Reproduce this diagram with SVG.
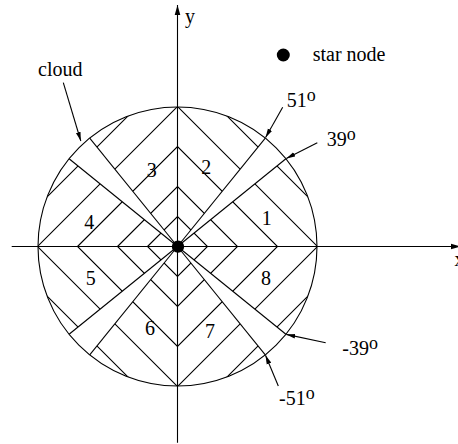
<svg xmlns="http://www.w3.org/2000/svg" width="458" height="444" viewBox="0 0 458 444">
<style>
  .ln{stroke:#000;stroke-width:1.1;fill:none}
  .arr{stroke:#000;stroke-width:1.1;fill:none;marker-end:url(#ah)}
  text{font-family:"Liberation Serif","Times New Roman",serif;font-size:20px;fill:#000}
  .num{text-anchor:middle}
  .sup{font-size:18px}
</style>
<defs>
  <marker id="ah" markerUnits="userSpaceOnUse" markerWidth="10" markerHeight="6" refX="9" refY="3" orient="auto">
    <path d="M0,0.6 L9,3 L0,5.4 Z" fill="#000"/>
  </marker>
  <marker id="axh" markerUnits="userSpaceOnUse" markerWidth="11" markerHeight="7" refX="10" refY="3.5" orient="auto">
    <path d="M0,0.7 L10,3.5 L0,6.3 Z" fill="#000"/>
  </marker>
  <clipPath id="disk">
    <path clip-rule="evenodd" d="M38,246.5 A139.5,139.5 0 1 0 317,246.5 A139.5,139.5 0 1 0 38,246.5 Z
      M177.5,246.5 L285.91,158.71 A139.5,139.5 0 0 0 265.29,138.09 Z
      M177.5,246.5 L89.71,138.09 A139.5,139.5 0 0 0 69.09,158.71 Z
      M177.5,246.5 L69.09,334.29 A139.5,139.5 0 0 0 89.71,354.91 Z
      M177.5,246.5 L265.29,354.91 A139.5,139.5 0 0 0 285.91,334.29 Z"/>
  </clipPath>
</defs>
<rect width="458" height="444" fill="#fff"/>

<g id="diamonds" class="ln" clip-path="url(#disk)">
  <polygon points="147.5,246.5 177.5,216.5 207.5,246.5 177.5,276.5"/>
  <polygon points="117.5,246.5 177.5,186.5 237.5,246.5 177.5,306.5"/>
  <polygon points="77.5,246.5 177.5,146.5 277.5,246.5 177.5,346.5"/>
  <polygon points="37.5,246.5 177.5,106.5 317.5,246.5 177.5,386.5"/>
  <polygon points="-2.5,246.5 177.5,66.5 357.5,246.5 177.5,426.5"/>
</g>

<g id="axes" class="ln">
  <line x1="11.7" y1="246.5" x2="461" y2="246.5" marker-end="url(#axh)"/>
  <line x1="177.5" y1="442.7" x2="177.5" y2="5" marker-end="url(#axh)"/>
</g>

<g id="wedges" class="ln">
  <line x1="177.5" y1="246.5" x2="285.91" y2="158.71"/>
  <line x1="177.5" y1="246.5" x2="265.29" y2="138.09"/>
  <line x1="177.5" y1="246.5" x2="89.71" y2="138.09"/>
  <line x1="177.5" y1="246.5" x2="69.09" y2="158.71"/>
  <line x1="177.5" y1="246.5" x2="69.09" y2="334.29"/>
  <line x1="177.5" y1="246.5" x2="89.71" y2="354.91"/>
  <line x1="177.5" y1="246.5" x2="265.29" y2="354.91"/>
  <line x1="177.5" y1="246.5" x2="285.91" y2="334.29"/>
</g>

<circle id="boundary" class="ln" cx="177.5" cy="246.5" r="139.5"/>

<g id="star">
  <circle cx="178" cy="246.6" r="6.2" fill="#000"/>
</g>

<g id="regions">
  <text class="num" x="266.7" y="225">1</text>
  <text class="num" x="206.3" y="174">2</text>
  <text class="num" x="151.7" y="176.7">3</text>
  <text class="num" x="89.3" y="229.3">4</text>
  <text class="num" x="90.7" y="285.3">5</text>
  <text class="num" x="150" y="335.3">6</text>
  <text class="num" x="210" y="337.7">7</text>
  <text class="num" x="266" y="285.3">8</text>
</g>

<g id="axis-labels">
  <text x="185" y="22.5">y</text>
  <text x="454.5" y="266">x</text>
</g>

<g id="legend">
  <circle cx="283.3" cy="55" r="6.5" fill="#000"/>
  <text x="312.7" y="60.7">star node</text>
</g>

<g id="annotations">
  <text x="38" y="76">cloud</text>
  <line class="arr" x1="63.3" y1="82.7" x2="80.8" y2="141"/>
  <text x="286.7" y="107.3">51<tspan class="sup" dy="-6">o</tspan></text>
  <line class="arr" x1="282.7" y1="107.3" x2="265.6" y2="137.6"/>
  <text x="326.7" y="146">39<tspan class="sup" dy="-6">o</tspan></text>
  <line class="arr" x1="317.3" y1="142.7" x2="286.3" y2="158.4"/>
  <text x="342.3" y="354.7">-39<tspan class="sup" dy="-6">o</tspan></text>
  <line class="arr" x1="325.7" y1="342.7" x2="286.3" y2="334.4"/>
  <text x="279" y="405.3">-51<tspan class="sup" dy="-6">o</tspan></text>
  <line class="arr" x1="278.3" y1="386" x2="265.5" y2="355.2"/>
</g>
</svg>
